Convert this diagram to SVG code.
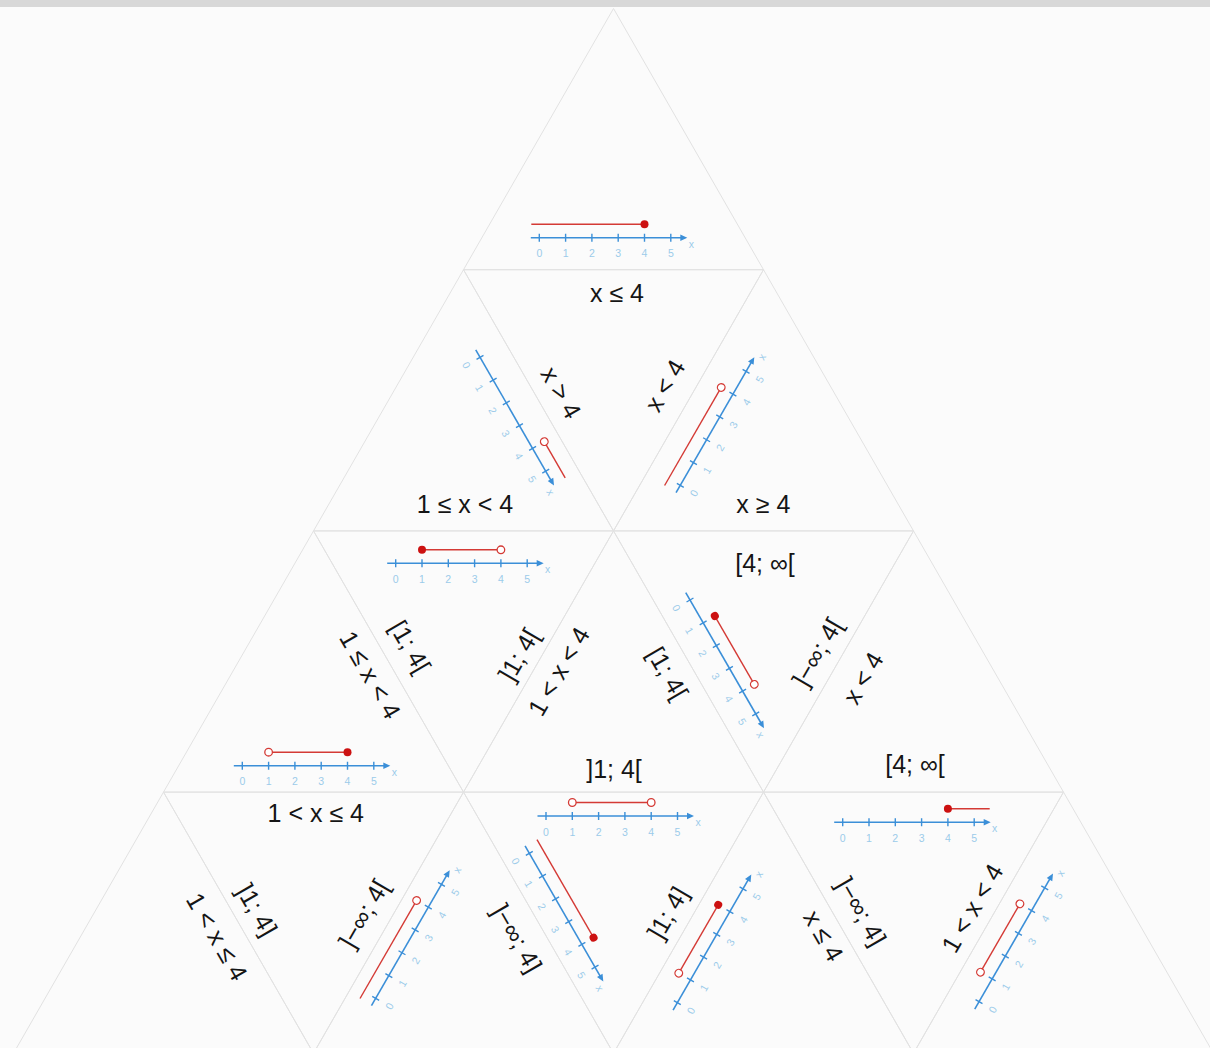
<svg xmlns="http://www.w3.org/2000/svg" xmlns:xlink="http://www.w3.org/1999/xlink" width="1210" height="1048" viewBox="0 0 1210 1048">
<style>
.tri{fill:none;stroke:#e2e2e2;stroke-width:1}
.t{font-family:"Liberation Sans",Arial,sans-serif;font-size:25px;fill:#151515;text-anchor:middle}
.ax{stroke:#3b8fd8;stroke-width:1.6}
.tk{stroke:#3b8fd8;stroke-width:1.4;fill:none}
.ah{fill:#3b8fd8}
.lb{font-family:"Liberation Sans",Arial,sans-serif;font-size:10.5px;fill:#9ccbea;text-anchor:middle}
.rl{stroke:#d43a35;stroke-width:1.4}
.fd{fill:#cc1111}
.od{fill:#ffffff;stroke:#d43a35;stroke-width:1.3}
</style>
<defs>
<g id="nl">
<line class="ax" x1="-8.5" y1="0" x2="142" y2="0"/>
<polygon class="ah" points="148,0 141,-3.2 141,3.2"/>
<path class="tk" d="M0,-4V4M26.3,-4V4M52.6,-4V4M78.9,-4V4M105.2,-4V4M131.5,-4V4"/>
<text class="lb" x="0" y="19.5">0</text>
<text class="lb" x="26.3" y="19.5">1</text>
<text class="lb" x="52.6" y="19.5">2</text>
<text class="lb" x="78.9" y="19.5">3</text>
<text class="lb" x="105.2" y="19.5">4</text>
<text class="lb" x="131.5" y="19.5">5</text>
<text class="lb" x="152" y="10">x</text>
</g>
</defs>
<rect x="0" y="0" width="1210" height="1048" fill="#fbfbfb"/>
<rect x="0" y="0" width="1210" height="7" fill="#d8d8d8"/>

<g id="connectors"></g>

<g id="U00">
<polygon class="tri" points="613.5,8.5 763.5,269.7 463.5,269.7"/>
<g transform="translate(539.3 237.7)"><use xlink:href="#nl"/><line class="rl" x1="-8" y1="-13.5" x2="105.2" y2="-13.5"/><circle class="fd" cx="105.2" cy="-13.5" r="4"/></g>
</g>

<g id="U10">
<polygon class="tri" points="463.5,269.7 613.5,530.9 313.5,530.9"/>
<g transform="translate(480 357.3) rotate(60)"><use xlink:href="#nl"/><line class="rl" x1="105.2" y1="-13.5" x2="147" y2="-13.5"/><circle class="od" cx="105.2" cy="-13.5" r="3.8"/></g>
<text class="t" x="465" y="513">1 ≤ x &lt; 4</text>
</g>

<g id="D10">
<polygon class="tri" points="463.5,269.7 763.5,269.7 613.5,530.9"/>
<text class="t" x="617" y="301.7">x ≤ 4</text>
<g transform="translate(560.8 392.8) rotate(60)"><text class="t" x="0" y="8.5">x &gt; 4</text></g>
<g transform="translate(665 385.8) rotate(-60)"><text class="t" x="0" y="8.5">x &lt; 4</text></g>
</g>

<g id="U11">
<polygon class="tri" points="763.5,269.7 913.5,530.9 613.5,530.9"/>
<g transform="translate(680.3 485.3) rotate(-60)"><use xlink:href="#nl"/><line class="rl" x1="-8" y1="-13.5" x2="105.2" y2="-13.5"/><circle class="od" cx="105.2" cy="-13.5" r="3.8"/></g>
<text class="t" x="763.3" y="512.7">x ≥ 4</text>
</g>

<g id="U20">
<polygon class="tri" points="313.5,530.9 463.5,792.1 163.5,792.1"/>
<g transform="translate(370 675) rotate(60)"><text class="t" x="0" y="8.5">1 ≤ x &lt; 4</text></g>
<g transform="translate(242.3 765.7)"><use xlink:href="#nl"/><line class="rl" x1="26.3" y1="-13.5" x2="105.2" y2="-13.5"/><circle class="od" cx="26.3" cy="-13.5" r="3.8"/><circle class="fd" cx="105.2" cy="-13.5" r="4"/></g>
</g>

<g id="D20">
<polygon class="tri" points="313.5,530.9 613.5,530.9 463.5,792.1"/>
<g transform="translate(395.7 563.3)"><use xlink:href="#nl"/><line class="rl" x1="26.3" y1="-13.5" x2="105.2" y2="-13.5"/><circle class="fd" cx="26.3" cy="-13.5" r="4"/><circle class="od" cx="105.2" cy="-13.5" r="3.8"/></g>
<g transform="translate(410 646.7) rotate(60)"><text class="t" x="0" y="8.5">[1; 4[</text></g>
<g transform="translate(519 655) rotate(-60)"><text class="t" x="0" y="8.5">]1; 4[</text></g>
</g>

<g id="U21">
<polygon class="tri" points="613.5,530.9 763.5,792.1 463.5,792.1"/>
<g transform="translate(559 671.7) rotate(-60)"><text class="t" x="0" y="8.5">1 &lt; x &lt; 4</text></g>
<g transform="translate(667.5 673.3) rotate(60)"><text class="t" x="0" y="8.5">[1; 4[</text></g>
<text class="t" x="614" y="778.3">]1; 4[</text>
</g>

<g id="D21">
<polygon class="tri" points="613.5,530.9 913.5,530.9 763.5,792.1"/>
<text class="t" x="765" y="571.7">[4; ∞[</text>
<g transform="translate(690 600) rotate(60)"><use xlink:href="#nl"/><line class="rl" x1="26.3" y1="-13.5" x2="105.2" y2="-13.5"/><circle class="fd" cx="26.3" cy="-13.5" r="4"/><circle class="od" cx="105.2" cy="-13.5" r="3.8"/></g>
<g transform="translate(817.5 652.5) rotate(-60)"><text class="t" x="0" y="8.5">]−∞; 4[</text></g>
</g>

<g id="U22">
<polygon class="tri" points="913.5,530.9 1063.5,792.1 763.5,792.1"/>
<g transform="translate(863.3 678.3) rotate(-60)"><text class="t" x="0" y="8.5">x &lt; 4</text></g>
<text class="t" x="915" y="773.3">[4; ∞[</text>
</g>

<g id="U30">
<polygon class="tri" points="163.5,792.1 313.5,1053.3 13.5,1053.3"/>
<g transform="translate(216.7 936.7) rotate(60)"><text class="t" x="0" y="8.5">1 &lt; x ≤ 4</text></g>
</g>

<g id="D30">
<polygon class="tri" points="163.5,792.1 463.5,792.1 313.5,1053.3"/>
<text class="t" x="315.8" y="821.7">1 &lt; x ≤ 4</text>
<g transform="translate(256.7 910) rotate(60)"><text class="t" x="0" y="8.5">]1; 4]</text></g>
<g transform="translate(364 914) rotate(-60)"><text class="t" x="0" y="8.5">]−∞; 4[</text></g>
</g>

<g id="U31">
<polygon class="tri" points="463.5,792.1 613.5,1053.3 313.5,1053.3"/>
<g transform="translate(375.7 998.3) rotate(-60)"><use xlink:href="#nl"/><line class="rl" x1="-8" y1="-13.5" x2="105.2" y2="-13.5"/><circle class="od" cx="105.2" cy="-13.5" r="3.8"/></g>
<g transform="translate(516.7 938.3) rotate(60)"><text class="t" x="0" y="8.5">]−∞; 4]</text></g>
</g>

<g id="D31">
<polygon class="tri" points="463.5,792.1 763.5,792.1 613.5,1053.3"/>
<g transform="translate(546 816)"><use xlink:href="#nl"/><line class="rl" x1="26.3" y1="-13.5" x2="105.2" y2="-13.5"/><circle class="od" cx="26.3" cy="-13.5" r="3.8"/><circle class="od" cx="105.2" cy="-13.5" r="3.8"/></g>
<g transform="translate(529.3 853.3) rotate(60)"><use xlink:href="#nl"/><line class="rl" x1="-8" y1="-13.5" x2="105.2" y2="-13.5"/><circle class="fd" cx="105.2" cy="-13.5" r="4"/></g>
<g transform="translate(668 913) rotate(-60)"><text class="t" x="0" y="8.5">]1; 4]</text></g>
</g>

<g id="U32">
<polygon class="tri" points="763.5,792.1 913.5,1053.3 613.5,1053.3"/>
<g transform="translate(677.3 1002.7) rotate(-60)"><use xlink:href="#nl"/><line class="rl" x1="26.3" y1="-13.5" x2="105.2" y2="-13.5"/><circle class="od" cx="26.3" cy="-13.5" r="3.8"/><circle class="fd" cx="105.2" cy="-13.5" r="4"/></g>
<g transform="translate(823.3 935.8) rotate(60)"><text class="t" x="0" y="8.5">x ≤ 4</text></g>
</g>

<g id="D32">
<polygon class="tri" points="763.5,792.1 1063.5,792.1 913.5,1053.3"/>
<g transform="translate(842.7 822.3)"><use xlink:href="#nl"/><line class="rl" x1="105.2" y1="-13.5" x2="147" y2="-13.5"/><circle class="fd" cx="105.2" cy="-13.5" r="4"/></g>
<g transform="translate(861 911.7) rotate(60)"><text class="t" x="0" y="8.5">]−∞; 4]</text></g>
<g transform="translate(972.5 908.3) rotate(-60)"><text class="t" x="0" y="8.5">1 &lt; x &lt; 4</text></g>
</g>

<g id="U33">
<polygon class="tri" points="1063.5,792.1 1213.5,1053.3 913.5,1053.3"/>
<g transform="translate(979 1001.7) rotate(-60)"><use xlink:href="#nl"/><line class="rl" x1="26.3" y1="-13.5" x2="105.2" y2="-13.5"/><circle class="od" cx="26.3" cy="-13.5" r="3.8"/><circle class="od" cx="105.2" cy="-13.5" r="3.8"/></g>
</g>
</svg>
